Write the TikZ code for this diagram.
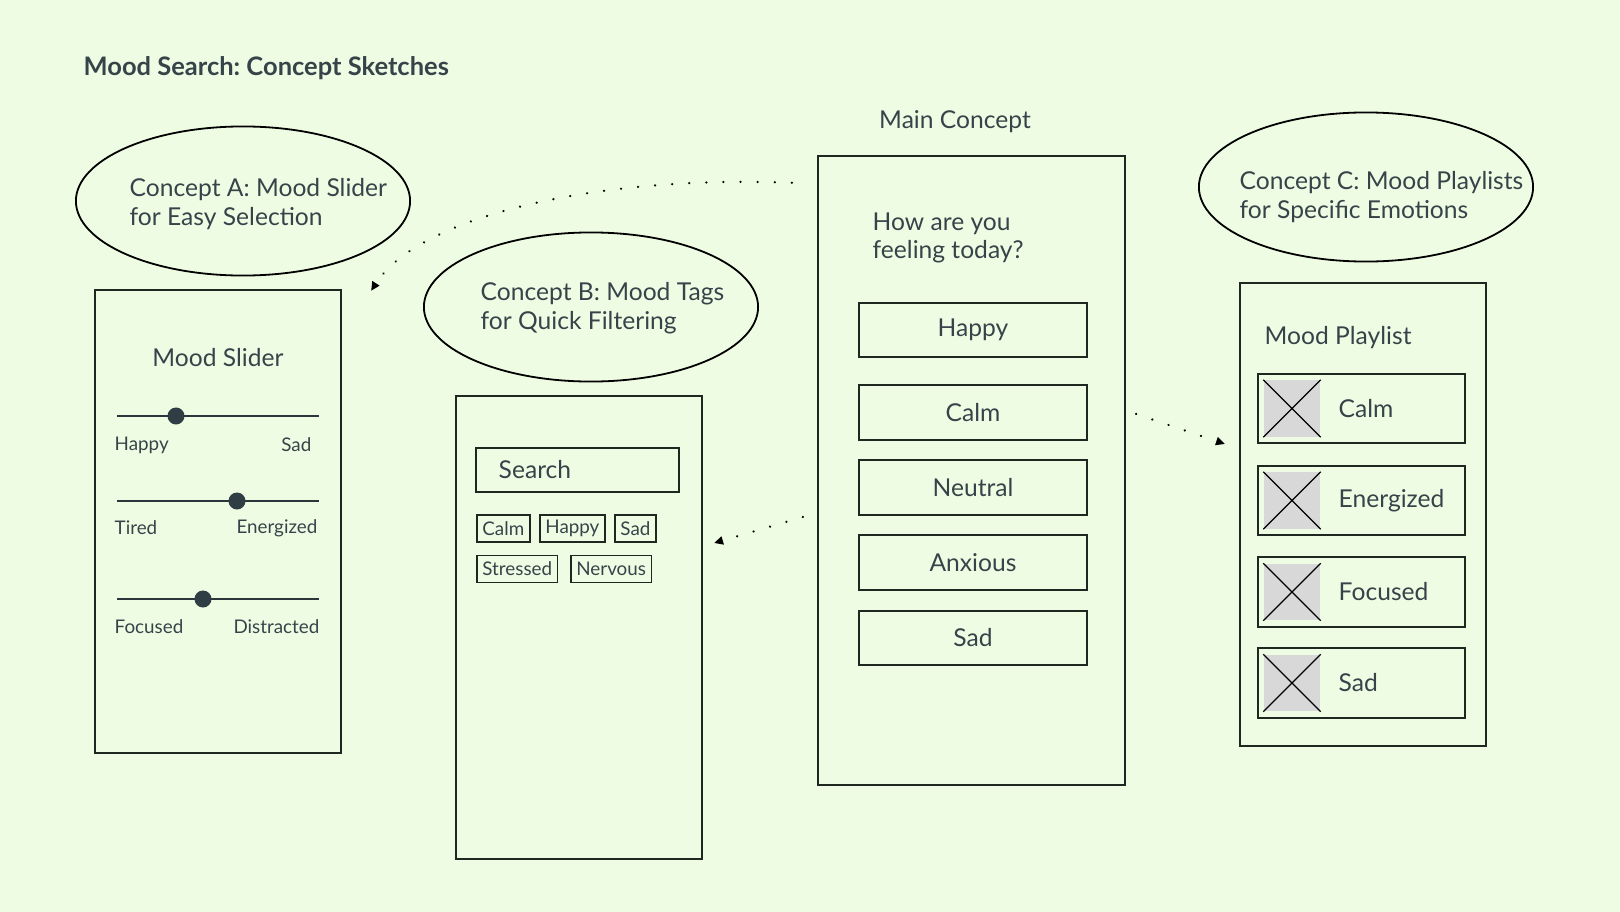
\documentclass[tikz,border=0pt]{standalone}
\usepackage{fontspec}
\setmainfont{Lato}
\usetikzlibrary{shapes.geometric,arrows.meta}
\frenchspacing
\definecolor{paper}{HTML}{EEFCE4}
\definecolor{ink}{HTML}{36444A}
\definecolor{frame}{HTML}{1F2820}
\definecolor{knobfill}{HTML}{2F3D45}
\definecolor{thumbgray}{HTML}{D8D8D8}
\tikzset{
  screen/.style={draw=frame, line width=0.02cm, minimum width=2.46cm, minimum height=4.63cm, inner sep=0pt},
  bubble/.style={ellipse, draw=black, line width=0.018cm, minimum width=3.34cm, minimum height=1.49cm, inner sep=0pt},
  bigtext/.style={font=\fontsize{7.0}{8.2}\selectfont, text=ink, inner sep=0pt},
  smalltext/.style={font=\fontsize{5.35}{6}\selectfont, text=ink, inner sep=0pt},
  bubbletext/.style={bigtext, align=left, anchor=west},
  moodbutton/.style={bigtext, draw=frame, line width=0.02cm, minimum width=2.28cm, minimum height=0.54cm},
  tagbox/.style={smalltext, draw=frame, line width=0.018cm, anchor=west, inner xsep=0.055cm, minimum height=0.27cm},
  playitem/.style={draw=frame, line width=0.02cm, minimum width=2.07cm, minimum height=0.69cm, inner sep=0pt},
  thumb/.style={fill=thumbgray, minimum size=0.56cm, inner sep=0pt},
  sliderline/.style={draw=ink!80!black, line width=0.02cm},
  knob/.style={circle, fill=knobfill, minimum size=0.17cm, inner sep=0pt},
  dotlink/.style={draw=black, line width=0.024cm, line cap=round, dash pattern=on 0.001cm off 0.17cm, -{Triangle[length=0.09cm, width=0.08cm]}},
}

\begin{document}
\begin{tikzpicture}[x=0.01cm, y=-0.01cm]
\useasboundingbox (0,0) rectangle (1620,912);
\fill[paper] (0,0) rectangle (1620,912);
% title
\node[anchor=west, text=ink, inner sep=0pt, font=\fontsize{7.25}{8.5}\selectfont\bfseries] (title) at (83,68) {Mood Search: Concept Sketches};

% concept bubbles
\node[bubble] (bubA) at (243,201) {};
\node[bubbletext] (bubAtxt) at (129,204) {Concept A: Mood Slider\\for Easy Selection};
\node[bubble] (bubB) at (591,307) {};
\node[bubbletext] (bubBtxt) at (480,308) {Concept B: Mood Tags\\for Quick Filtering};
\node[bubble] (bubC) at (1366,187) {};
\node[bubbletext] (bubCtxt) at (1239,197) {Concept C: Mood Playlists\\for Specific Emotions};

% screen A: sliders
\node[screen] (scrA) at (218,521.5) {};
\node[bigtext] (sliderhead) at (218,358) {Mood Slider};
\draw[sliderline] (117,416) -- (319,416);
\node[knob] (knobA) at (176,416) {};
\node[smalltext, anchor=west] (lblHappy) at (114,445) {Happy};
\node[smalltext, anchor=east] (lblSad) at (312,445) {Sad};
\draw[sliderline] (117,501) -- (319,501);
\node[knob] (knobB) at (237,501) {};
\node[smalltext, anchor=west] (lblTired) at (114,528) {Tired};
\node[smalltext, anchor=east] (lblEnergized) at (318,528) {Energized};
\draw[sliderline] (117,599) -- (319,599);
\node[knob] (knobC) at (203,599) {};
\node[smalltext, anchor=west] (lblFocused) at (114,627) {Focused};
\node[smalltext, anchor=east] (lblDistracted) at (320,627) {Distracted};

% screen B: search and tags
\node[screen] (scrB) at (579,627.5) {};
\node[draw=frame, line width=0.02cm, minimum width=2.03cm, minimum height=0.44cm, inner sep=0pt] (search) at (577.5,470) {};
\node[bigtext, anchor=west] (searchtxt) at (498,470) {Search};
\node[tagbox] (tagCalm) at (476,528.5) {Calm};
\node[tagbox] (tagHappy) at (539,528.5) {Happy};
\node[tagbox] (tagSad) at (614,528.5) {Sad};
\node[tagbox] (tagStressed) at (476,569) {Stressed};
\node[tagbox] (tagNervous) at (570,569) {Nervous};

% main screen
\node[bigtext] (mainhead) at (955,122) {Main Concept};
\node[screen, minimum width=3.07cm, minimum height=6.29cm] (main) at (971.5,470.5) {};
\node[bubbletext] (question) at (872,238) {How are you\\feeling today?};
\foreach \mood/\yy in {Happy/330, Calm/412.5, Neutral/487.5, Anxious/562.5, Sad/638}
  \node[moodbutton] (btn\mood) at (973,\yy) {\mood};

% screen C: playlists
\node[screen] (scrC) at (1363,514.5) {};
\node[bigtext, anchor=west] (playhead) at (1264,338) {Mood Playlist};
\foreach \mood/\yy in {Calm/408.5, Energized/500.5, Focused/592, Sad/683} {
  \node[playitem] (item\mood) at (1361.5,\yy) {};
  \node[thumb] (thumb\mood) at (1292,\yy) {};
  \draw[black, line width=0.012cm] (thumb\mood.north west) -- (thumb\mood.south east)
    (thumb\mood.north east) -- (thumb\mood.south west);
  \node[bigtext, anchor=west] (itemtxt\mood) at (1338,\yy) {\mood};
}

% links out of the main concept
\draw[dotlink] ([shift={(-25,28)}]main.north west) .. controls (600,175) and (420,215) .. ([shift={(29,2)}]scrA.north east);
\draw[dotlink] ([shift={(-14,46.5)}]main.west) -- ([shift={(11,-84.5)}]scrB.east);
\draw[dotlink] ([shift={(10,-56.5)}]main.east) -- ([shift={(-14,-70.5)}]scrC.west);
\end{tikzpicture}
\end{document}
